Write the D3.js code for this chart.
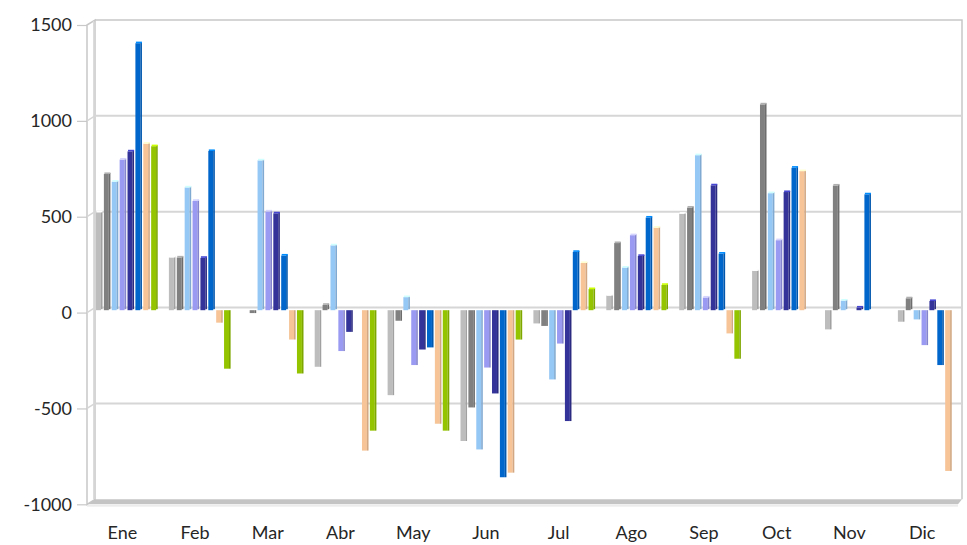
<!DOCTYPE html>
<html>
<head>
<meta charset="utf-8">
<script src="https://cdn.jsdelivr.net/npm/d3@7/dist/d3.min.js"></script>
<style>
  html, body { margin: 0; padding: 0; background: #ffffff; }
  svg { display: block; }
  text { font-family: Lato, "Open Sans", sans-serif; fill: #262626; }
</style>
</head>
<body>
<svg id="chart" width="967" height="545"></svg>
<script>
// ---- data ----
const months = ["Ene","Feb","Mar","Abr","May","Jun","Jul","Ago","Sep","Oct","Nov","Dic"];
const seriesNames = ["S1","S2","S3","S4","S5","S6","S7","S8"];
const s1 = [510, 275, 0, -295, -443, -682, -69, 76, 503, 205, -100, -60];
const s2 = [710, 275, -15, 28, -55, -507, -82, 350, 535, 1073, 650, 62];
const s3 = [670, 640, 781, 338, 68, -726, -361, 222, 808, 610, 50, -48];
const s4 = [785, 570, 515, -213, -286, -299, -174, 391, 66, 365, 0, -182];
const s5 = [828, 273, 505, -113, -205, -434, -578, 283, 651, 616, 14, 48];
const s6 = [1392, 830, 285, 0, -194, -871, 304, 483, 295, 743, 604, -286];
const s7 = [868, -65, -153, -732, -592, -847, 246, 430, -121, 725, 0, -838];
const s8 = [855, -305, -330, -628, -628, -153, 110, 132, -253, 0, 0, 0];
const seriesValues = [s1, s2, s3, s4, s5, s6, s7, s8];
const seriesColors = ["#bdbdbd","#808080","#96c8f5","#9a9af2","#333399","#0066cc","#f6c497","#94c400"];
const yTicks = [-1000, -500, 0, 500, 1000, 1500];

// ---- layout ----
const svg = d3.select("#chart");

// back wall plane
const yB = d3.scaleLinear().domain([-1000, 1500]).range([499.3, 20]);
// front plane (axis)
const yF = d3.scaleLinear().domain([-1000, 1500]).range([504.3, 25]);
// middle plane (bars)
const yM = d3.scaleLinear().domain([-1000, 1500]).range([502, 22.5]);

const backLeft = 95, backRight = 962;
const frontLeft = 87, frontRight = 958;

const xF = d3.scaleBand().domain(months).range([86, 958.5]).paddingInner(0).paddingOuter(0);
const xM = d3.scaleBand().domain(months).range([90.5, 965.3]).paddingInner(0).paddingOuter(0);
const xS = d3.scaleBand().domain(seriesNames).range([5.5, 67.2]).paddingInner(0.17).paddingOuter(0);

const frameColor = "#c8c8c8";
const gridColor = "#d6d6d6";

// left wall
svg.append("polygon")
  .attr("points", [[frontLeft, yF(1500)], [backLeft, yB(1500)], [backLeft, yB(-1000)], [frontLeft, yF(-1000)]].map(p => p.join(",")).join(" "))
  .attr("fill", "#ffffff").attr("stroke", frameColor).attr("stroke-width", 1.5);
svg.append("line").attr("x1", backLeft - 1.5).attr("x2", backLeft - 1.5)
  .attr("y1", yB(1500) + 1).attr("y2", yB(-1000)).attr("stroke", "#dcdcdc").attr("stroke-width", 1);

// back wall top + right edges
svg.append("path")
  .attr("d", `M${backLeft},${yB(1500)} H${backRight} V${yB(-1000)}`)
  .attr("fill", "none").attr("stroke", frameColor).attr("stroke-width", 1.5);

// gridlines (back wall + left wall slant)
const gridVals = yTicks.filter(v => v > -1000 && v < 1500);
svg.append("g").selectAll("line.grid").data(gridVals).join("line")
  .attr("x1", backLeft).attr("x2", backRight)
  .attr("y1", d => yB(d)).attr("y2", d => yB(d))
  .attr("stroke", gridColor).attr("stroke-width", 2);
svg.append("g").selectAll("line.gslant").data(gridVals).join("line")
  .attr("x1", frontLeft).attr("x2", backLeft)
  .attr("y1", d => yF(d)).attr("y2", d => yB(d))
  .attr("stroke", gridColor).attr("stroke-width", 1.5);

// floor
svg.append("polygon")
  .attr("points", [[frontLeft, yF(-1000)], [backLeft, yB(-1000)], [backRight, yB(-1000)], [frontRight, yF(-1000)]].map(p => p.join(",")).join(" "))
  .attr("fill", "#c4c4c4");
svg.append("line").attr("x1", frontLeft).attr("x2", frontRight)
  .attr("y1", yF(-1000) + 1.5).attr("y2", yF(-1000) + 1.5)
  .attr("stroke", "#e6e6e6").attr("stroke-width", 1.2);

// bars
const barData = [];
seriesValues.forEach((vals, si) => {
  vals.forEach((v, mi) => {
    if (v !== 0) barData.push({ month: months[mi], series: seriesNames[si], value: v, color: seriesColors[si] });
  });
});

const side = 1.6;
const gBars = svg.append("g");
const bars = gBars.selectAll("g.bar").data(barData).join("g").attr("class", "bar");
bars.append("rect")
  .attr("x", d => xM(d.month) + xS(d.series))
  .attr("y", d => Math.min(yM(0), yM(d.value)))
  .attr("width", xS.bandwidth() - side)
  .attr("height", d => Math.abs(yM(d.value) - yM(0)))
  .attr("fill", d => d.color);
bars.append("rect")
  .attr("x", d => xM(d.month) + xS(d.series) + xS.bandwidth() - side)
  .attr("y", d => Math.min(yM(0), yM(d.value)) - (d.value > 0 ? 1 : 0))
  .attr("width", side)
  .attr("height", d => Math.abs(yM(d.value) - yM(0)))
  .attr("fill", d => d3.color(d.color).darker(0.45));
bars.filter(d => d.value > 0).append("rect")
  .attr("x", d => xM(d.month) + xS(d.series) + 0.5)
  .attr("y", d => yM(d.value) - 1.6)
  .attr("width", xS.bandwidth() - 0.5)
  .attr("height", 1.6)
  .attr("fill", d => d3.color(d.color).brighter(0.9));

// y axis (front plane)
const yAxis = svg.append("g")
  .attr("transform", `translate(${frontLeft},0)`)
  .call(d3.axisLeft(yF).tickValues(yTicks).tickSize(10).tickPadding(5).tickFormat(d => String(d)));
yAxis.select(".domain").remove();
yAxis.selectAll(".tick line").attr("stroke", frameColor).attr("stroke-width", 1.2);
yAxis.selectAll(".tick text").style("font-family", "Lato, 'Open Sans', sans-serif").style("font-size", "18px").attr("fill", "#262626");

// x axis (front plane)
const xAxis = svg.append("g")
  .attr("transform", `translate(0,${yF(-1000)})`)
  .call(d3.axisBottom(xF).tickSize(0).tickPadding(22));
xAxis.select(".domain").remove();
xAxis.selectAll(".tick text").style("font-family", "Lato, 'Open Sans', sans-serif").style("font-size", "18px").attr("fill", "#262626");
</script>
</body>
</html>
